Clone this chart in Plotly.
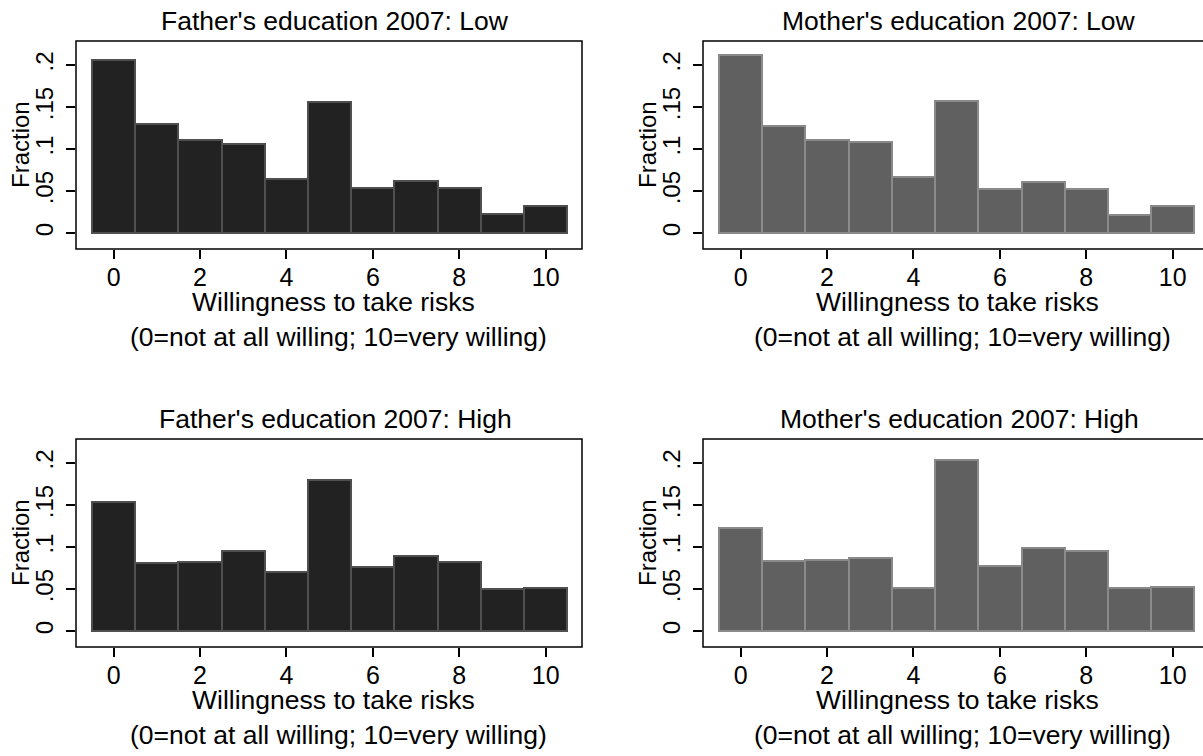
import plotly.graph_objects as go

scores = list(range(11))
x_tick_vals = [0, 2, 4, 6, 8, 10]
y_tick_vals = [0, 0.05, 0.10, 0.15, 0.20]
y_tick_text = ["0", ".05", ".1", ".15", ".2"]

father_low = [0.206, 0.130, 0.111, 0.106, 0.065, 0.156, 0.054, 0.062, 0.054, 0.023, 0.032]
mother_low = [0.212, 0.128, 0.111, 0.108, 0.067, 0.157, 0.053, 0.061, 0.053, 0.022, 0.033]
father_high = [0.154, 0.081, 0.083, 0.095, 0.070, 0.180, 0.076, 0.089, 0.083, 0.050, 0.051]
mother_high = [0.123, 0.084, 0.085, 0.087, 0.051, 0.204, 0.078, 0.099, 0.095, 0.051, 0.053]

titles = ["Father's education 2007: Low", "Mother's education 2007: Low",
          "Father's education 2007: High", "Mother's education 2007: High"]
x_title = "Willingness to take risks"
x_note = "(0=not at all willing; 10=very willing)"
y_title = "Fraction"

W, H = 1203, 756
FONT = "Liberation Sans, Arial, Helvetica, sans-serif"

panels = [
    dict(vals=father_low, fill="#222222", edge="#4f4f4f", px=(76, 582), py=(41, 249), xr=[-0.87, 10.84]),
    dict(vals=mother_low, fill="#606060", edge="#8a8a8a", px=(703, 1203), py=(41, 249), xr=[-0.87, 10.70]),
    dict(vals=father_high, fill="#222222", edge="#4f4f4f", px=(76, 582), py=(439, 647), xr=[-0.87, 10.84]),
    dict(vals=mother_high, fill="#606060", edge="#8a8a8a", px=(703, 1203), py=(439, 647), xr=[-0.87, 10.70]),
]

fig = go.Figure()
layout = dict(
    width=W, height=H,
    margin=dict(l=0, r=0, t=0, b=0),
    paper_bgcolor="white", plot_bgcolor="white",
    showlegend=False, bargap=0,
    font=dict(family=FONT, color="black", size=24),
)
annotations = []
shapes = []

for i, p in enumerate(panels):
    n = i + 1
    xa = "x" if n == 1 else f"x{n}"
    ya = "y" if n == 1 else f"y{n}"
    fig.add_trace(go.Bar(
        x=scores, y=p["vals"], width=1.0,
        marker=dict(color=p["fill"], line=dict(color=p["edge"], width=2)),
        xaxis=xa, yaxis=ya, hoverinfo="x+y",
    ))
    x0, x1 = p["px"]
    y0, y1 = p["py"]
    layout["xaxis" if n == 1 else f"xaxis{n}"] = dict(
        domain=[x0 / W, min(x1 / W, 1.0)], anchor=ya, range=p["xr"],
        tickvals=x_tick_vals, ticks="outside", ticklen=9, tickwidth=1.5, tickcolor="black",
        showline=False, showgrid=False, zeroline=False, automargin=False,
        tickfont=dict(size=25, family=FONT), ticklabelstandoff=-3, fixedrange=True,
    )
    layout["yaxis" if n == 1 else f"yaxis{n}"] = dict(
        domain=[(H - y1) / H, (H - y0) / H], anchor=xa, range=[-0.0187, 0.2287],
        tickvals=y_tick_vals, ticktext=y_tick_text, tickangle=-90,
        ticks="outside", ticklen=9, tickwidth=1.5, tickcolor="black",
        showline=False, showgrid=False, zeroline=False, automargin=False,
        tickfont=dict(size=24, family=FONT), ticklabelstandoff=3, fixedrange=True,
    )
    shapes.append(dict(
        type="rect", xref=f"{xa} domain", yref=f"{ya} domain",
        x0=0, x1=1.0 if x1 < W else 1.2, y0=0, y1=1,
        line=dict(color="black", width=1.5), fillcolor="rgba(0,0,0,0)", layer="above",
    ))
    cx = 335 if x0 < 600 else 959
    annotations.append(dict(text=titles[i], x=cx / W, y=1 - (y0 - 20) / H,
                            xref="paper", yref="paper", showarrow=False,
                            xanchor="center", yanchor="middle", font=dict(size=26.5)))
    annotations.append(dict(text=x_title, x=(cx - 2) / W, y=1 - (y1 + 53) / H,
                            xref="paper", yref="paper", showarrow=False,
                            xanchor="center", yanchor="middle", font=dict(size=26.5)))
    annotations.append(dict(text=x_note, x=(cx + 3) / W, y=1 - (y1 + 88) / H,
                            xref="paper", yref="paper", showarrow=False,
                            xanchor="center", yanchor="middle", font=dict(size=26.5)))
    annotations.append(dict(text=y_title, x=(x0 - 56) / W, y=1 - ((y0 + y1) / 2) / H,
                            xref="paper", yref="paper", showarrow=False, textangle=-90,
                            xanchor="center", yanchor="middle", font=dict(size=24)))

layout["annotations"] = annotations
layout["shapes"] = shapes
fig.update_layout(**layout)
fig.write_html(
    "out.html",
    config={"displayModeBar": False},
    post_script="document.body.style.margin='0px';document.body.style.overflow='hidden';",
)
